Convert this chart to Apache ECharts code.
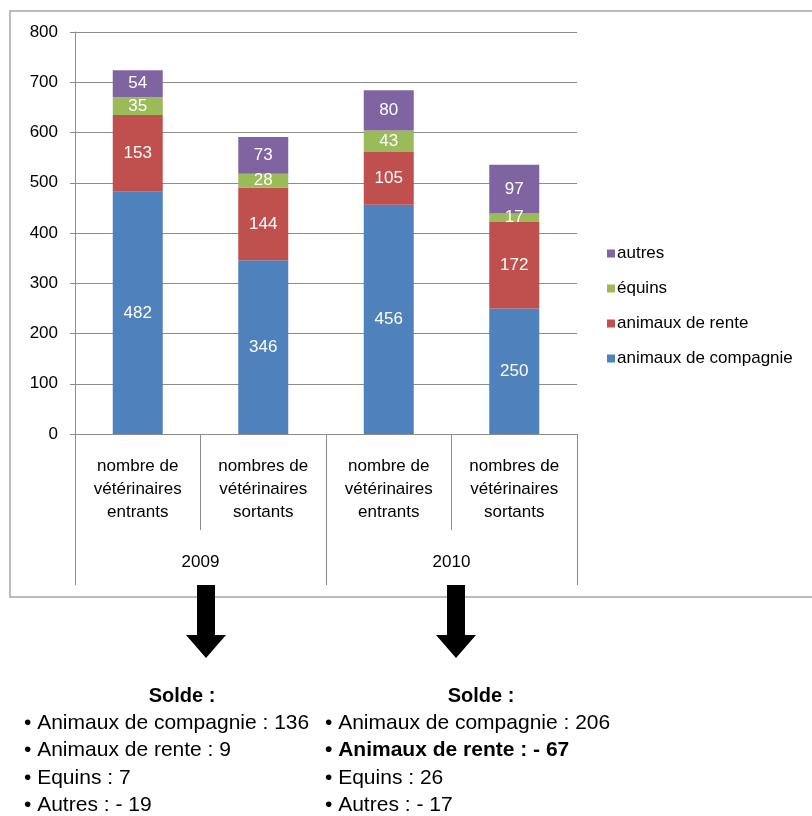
<!DOCTYPE html>
<html><head><meta charset="utf-8">
<script src="https://cdn.jsdelivr.net/npm/echarts@6/dist/echarts.min.js"></script>
<style>html,body{margin:0;padding:0;background:#fff}#c{width:812px;height:816px}</style>
</head><body><div id="c"></div>
<script>
const categories = ['nombre de\nvétérinaires\nentrants', 'nombres de\nvétérinaires\nsortants', 'nombre de\nvétérinaires\nentrants', 'nombres de\nvétérinaires\nsortants'];
const years = ['2009', '2010'];
const compagnie = [482, 346, 456, 250];
const rente = [153, 144, 105, 172];
const equins = [35, 28, 43, 17];
const autres = [54, 73, 80, 97];
const yTicks = {min: 0, max: 800, interval: 100};
const solde2009 = ['Animaux de compagnie : 136', 'Animaux de rente : 9', 'Equins : 7', 'Autres : - 19'];
const solde2010 = ['Animaux de compagnie : 206', 'Animaux de rente : - 67', 'Equins : 26', 'Autres : - 17'];

const FONT = 'Liberation Sans, Arial, sans-serif';
const chart = echarts.init(document.getElementById('c'));
const lbl = {show: true, position: 'inside', color: '#fff', fontSize: 17, fontFamily: FONT};
function mk(name, data, color) {
  return {name, type: 'bar', stack: 's', data, barWidth: 50, xAxisIndex: 0,
    itemStyle: {color}, label: lbl};
}
const graphics = [
  {type: 'rect', shape: {x: 10, y: 11, width: 820, height: 586}, style: {fill: 'none', stroke: '#a6a6a6', lineWidth: 1.5}, z: -1},
];
function arrow(cx) {
  return {type: 'polygon', shape: {points: [[cx-9,585],[cx+9,585],[cx+9,635],[cx+20,635],[cx,658],[cx-20,635],[cx-9,635]]}, style: {fill: '#000'}};
}
graphics.push(arrow(206), arrow(456));
function block(list, x0, cx, boldIdx) {
  graphics.push({type: 'text', x: cx, y: 696, style: {text: 'Solde :', font: 'bold 20px ' + FONT, fill: '#000', textAlign: 'center', textVerticalAlign: 'middle'}});
  const ys = [723, 750, 778, 805];
  list.forEach((t, i) => {
    graphics.push({type: 'text', x: x0, y: ys[i], style: {text: '• ' + t, font: (i === boldIdx ? 'bold ' : '') + '21px ' + FONT, fill: '#000', textVerticalAlign: 'middle'}});
  });
}
block(solde2009, 24, 182, -1);
block(solde2010, 325, 481, 1);

chart.setOption({
  animation: false,
  color: ['#4F81BD', '#C0504D', '#9BBB59', '#8064A2'],
  grid: {left: 75, right: 235, top: 32, bottom: 382},
  legend: {
    orient: 'vertical', left: 602, top: 240, itemGap: 18, itemWidth: 8, itemHeight: 8, icon: 'rect',
    data: ['autres', 'équins', 'animaux de rente', 'animaux de compagnie'],
    textStyle: {fontSize: 17, fontFamily: FONT, color: '#000', padding: [0, 0, 0, -3]}
  },
  xAxis: [
    {type: 'category', data: categories, position: 'bottom',
     axisLine: {lineStyle: {color: '#8c8c8c'}},
     axisTick: {show: true, length: 96, interval: 0, lineStyle: {color: '#8c8c8c'}},
     axisLabel: {interval: 0, margin: 21, fontSize: 17, lineHeight: 23, color: '#000', fontFamily: FONT}},
    {type: 'category', data: years, position: 'bottom',
     axisLine: {show: false},
     axisTick: {show: true, length: 151, interval: 0, lineStyle: {color: '#8c8c8c'}},
     axisLabel: {interval: 0, margin: 120, fontSize: 17, color: '#000', fontFamily: FONT}}
  ],
  yAxis: {type: 'value', min: yTicks.min, max: yTicks.max, interval: yTicks.interval,
    axisLine: {show: true, lineStyle: {color: '#8c8c8c'}},
    axisTick: {show: true, length: 5, lineStyle: {color: '#8c8c8c'}},
    splitLine: {lineStyle: {color: '#8c8c8c'}},
    axisLabel: {fontSize: 17, color: '#000', fontFamily: FONT, margin: 17}},
  series: [
    mk('animaux de compagnie', compagnie, '#4F81BD'),
    mk('animaux de rente', rente, '#C0504D'),
    mk('équins', equins, '#9BBB59'),
    mk('autres', autres, '#8064A2')
  ],
  graphic: graphics
});
</script></body></html>
